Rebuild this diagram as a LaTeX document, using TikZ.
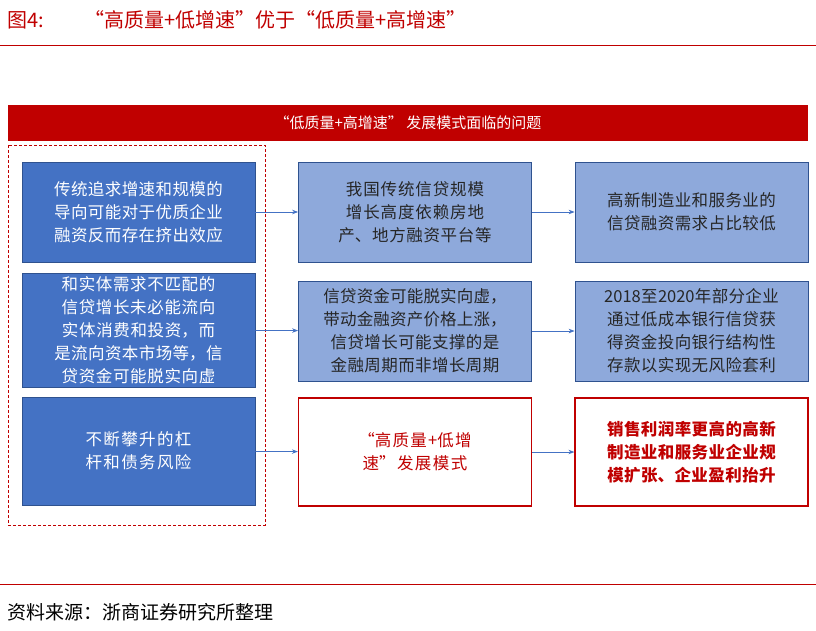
\documentclass[tikz,border=0pt]{standalone}
\usepackage{fontspec}
\setmainfont{Liberation Serif}
\newfontfamily\cjk{Noto Sans CJK SC}
\XeTeXlinebreaklocale "zh"
\XeTeXlinebreakskip = 0pt plus 1pt
\usetikzlibrary{positioning, arrows.meta}
\definecolor{zsred}{HTML}{C00000}
\definecolor{darkblue}{HTML}{4472C4}
\definecolor{lightblue}{HTML}{8EA9DB}
\definecolor{edgeblue}{HTML}{2F528F}
\tikzset{
  box/.style={draw=edgeblue, line width=0.8pt, minimum width=233pt, minimum height=100pt,
    text width=196pt, align=center, font=\cjk\fontsize{16.5}{23}\selectfont},
  darkbox/.style={box, fill=darkblue, text=white},
  lightbox/.style={box, fill=lightblue, text=black!85},
  redbox/.style={box, draw=zsred, line width=1.2pt, fill=white, text=zsred, minimum height=108pt},
  link/.style={-{Stealth[length=6pt]}, draw=darkblue, line width=0.8pt}
}
\begin{document}
\begin{tikzpicture}[x=1pt, y=-1pt]
  \useasboundingbox (0,0) rectangle (816,630);
  \node (title) [anchor=west, text=zsred, font=\cjk\fontsize{20}{24}\selectfont] at (4,20)
    {图4:\qquad “高质量+低增速”优于“低质量+高增速”};
  \draw [zsred, line width=1pt] (0,45) -- (816,45);
  \node (banner) [fill=zsred, minimum width=800pt, minimum height=36pt, text=white,
    font=\cjk\fontsize{15}{18}\selectfont] at (408,123) {“低质量+高增速” 发展模式面临的问题};
  \draw [zsred, line width=1pt, dash pattern=on 3pt off 2pt] (8,145) rectangle (265,525);
  % left column
  \node (l1) [darkbox] at (138.5,212) {传统追求增速和规模的导向可能对于优质企业融资反而存在挤出效应};
  \node (l2) [darkbox] at (138.5,330) {和实体需求不匹配的信贷增长未必能流向实体消费和投资，而是流向资本市场等，信贷资金可能脱实向虚};
  \node (l3) [darkbox, minimum height=108pt] at (138.5,451) {不断攀升的杠杆和债务风险};
  % middle column
  \node (m1) [lightbox] at (415,212) {我国传统信贷规模增长高度依赖房地产、地方融资平台等};
  \node (m2) [lightbox] at (415,331) {信贷资金可能脱实向虚，带动金融资产价格上涨，信贷增长可能支撑的是金融周期而非增长周期};
  \node (m3) [redbox] at (415,452) {“高质量+低增速”发展模式};
  % right column
  \node (r1) [lightbox] at (691.5,212) {高新制造业和服务业的信贷融资需求占比较低};
  \node (r2) [lightbox] at (691.5,331) {2018至2020年部分企业通过低成本银行信贷获得资金投向银行结构性存款以实现无风险套利};
  \node (r3) [redbox, font=\cjk\bfseries\fontsize{16.5}{23}\selectfont] at (691.5,452) {销售利润率更高的高新制造业和服务业企业规模扩张、企业盈利抬升};
  \draw [link] (l1) -- (m1);
  \draw [link] (l2) -- (m2);
  \draw [link] (l3) -- (m3);
  \draw [link] (m1) -- (r1);
  \draw [link] (m2) -- (r2);
  \draw [link] (m3) -- (r3);
  \draw [zsred, line width=1pt] (0,584) -- (816,584);
  \node (source) [anchor=west, font=\cjk\fontsize{19}{22}\selectfont] at (4,612) {资料来源：浙商证券研究所整理};
\end{tikzpicture}
\end{document}
